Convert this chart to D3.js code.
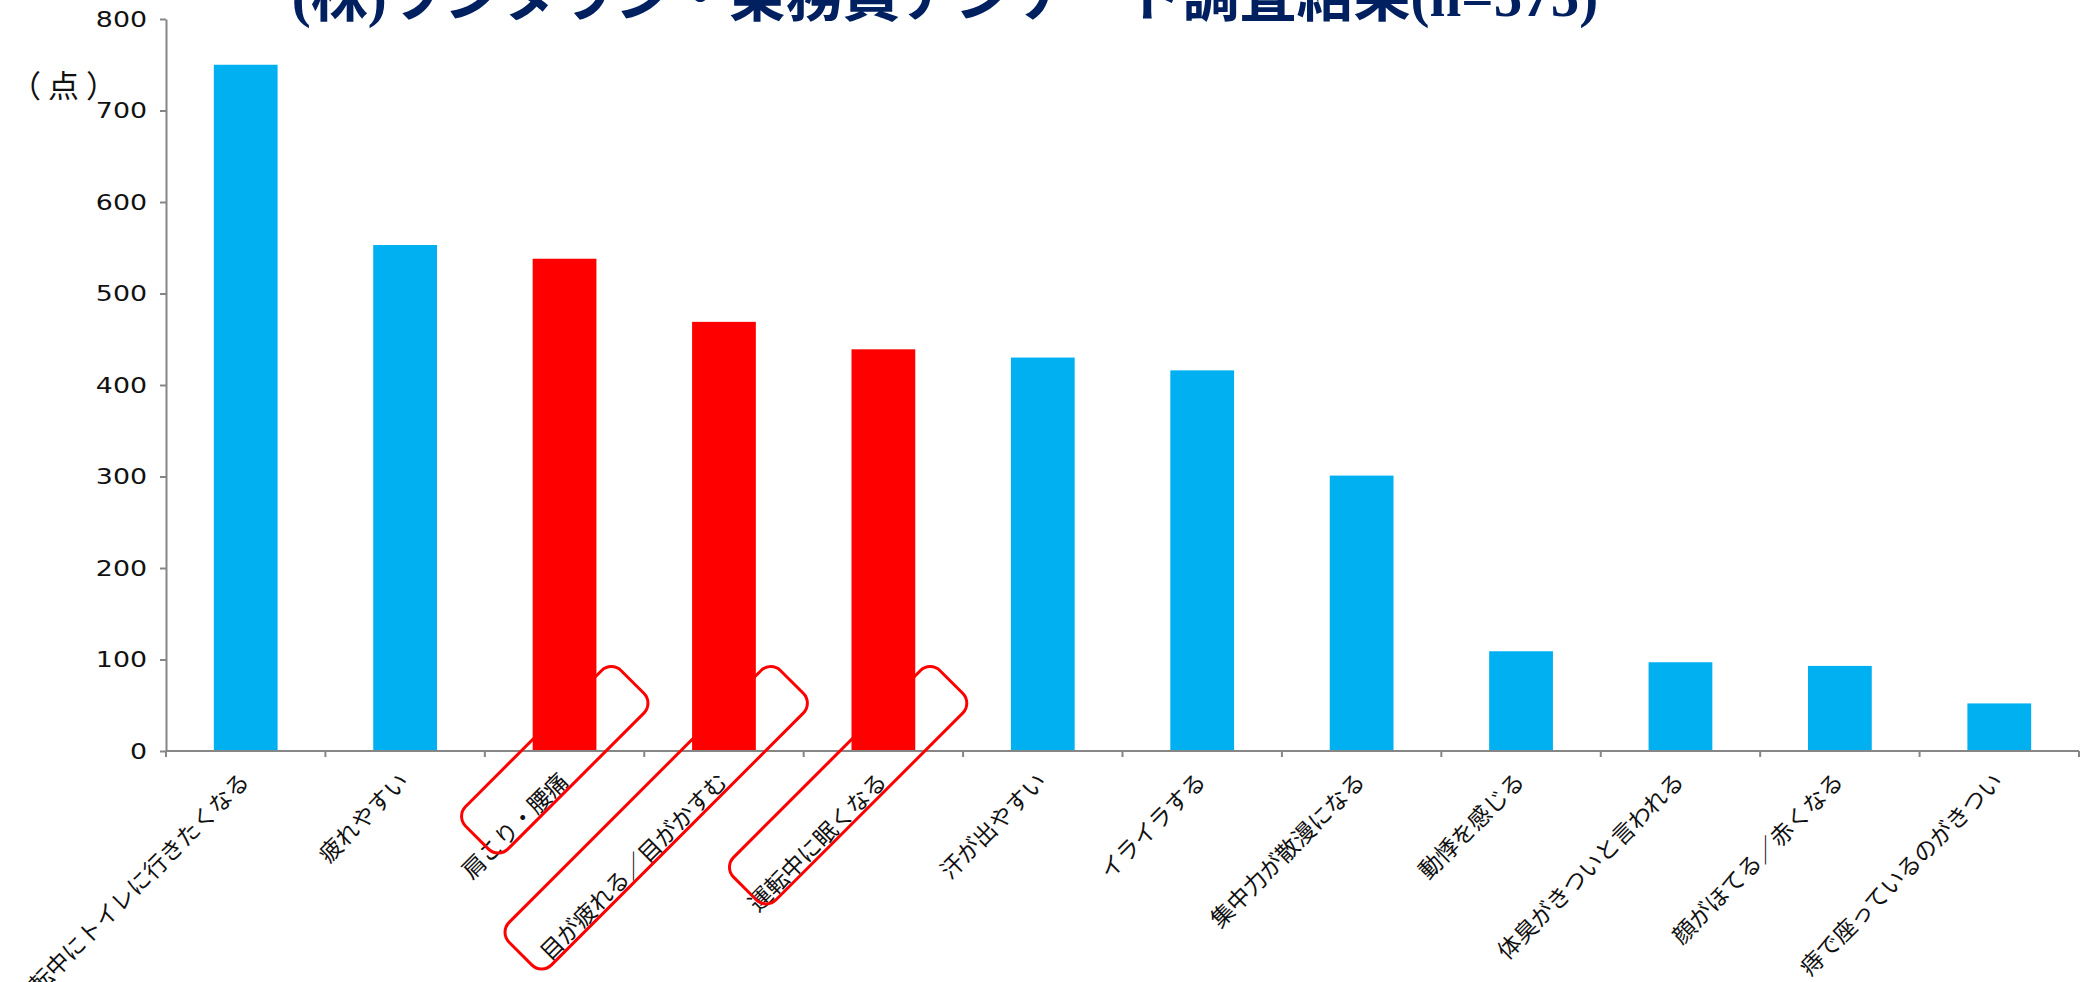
<!DOCTYPE html>
<html>
<head>
<meta charset="utf-8">
<script src="https://cdn.jsdelivr.net/npm/d3@7"></script>
<style>
  html, body { margin: 0; padding: 0; background: #ffffff; }
  svg { display: block; }
</style>
</head>
<body>
<svg id="chart" width="2084" height="982"></svg>
<script>
// ---- data ----
const categories = [
  "運転中にトイレに行きたくなる",
  "疲れやすい",
  "肩こり・腰痛",
  "目が疲れる／目がかすむ",
  "運転中に眠くなる",
  "汗が出やすい",
  "イライラする",
  "集中力が散漫になる",
  "動悸を感じる",
  "体臭がきついと言われる",
  "顔がほてる／赤くなる",
  "痔で座っているのがきつい"
];
const values = [750, 553, 538, 469, 439, 430, 416, 301, 109, 97, 93, 52];
const highlighted = ["肩こり・腰痛", "目が疲れる／目がかすむ", "運転中に眠くなる"];
const yTicks = [0, 100, 200, 300, 400, 500, 600, 700, 800];
const titleText = "(株)ワンタウン・乗務員アンケート調査結果(n=575)";
const yUnit = "（点）";

// ---- layout / style ----
const svg = d3.select("#chart");
const plotLeft = 166, plotRight = 2079, plotTop = 19, plotBottom = 751;
const axisColor = "#868686";
const blue = "#00B0F0", red = "#FF0000";
const jpFont = "'Noto Sans CJK JP', 'Noto Sans', sans-serif";

const x = d3.scaleBand().domain(categories).range([plotLeft, plotRight])
  .paddingInner(0.6).paddingOuter(0.3);
const y = d3.scaleLinear().domain([0, 800]).range([plotBottom, plotTop]);
const step = x.step();

// title (cut off at the top)
svg.append("text")
  .attr("x", 945).attr("y", 16)
  .attr("text-anchor", "middle")
  .attr("font-family", "'Liberation Serif', 'Noto Sans CJK JP', serif")
  .attr("font-weight", "bold")
  .attr("font-size", 57)
  .attr("fill", "#002060")
  .text(titleText);

// bars
svg.append("g").selectAll("rect")
  .data(categories)
  .join("rect")
  .attr("x", d => x(d))
  .attr("width", x.bandwidth())
  .attr("y", (d, i) => y(values[i]))
  .attr("height", (d, i) => y(0) - y(values[i]))
  .attr("fill", d => highlighted.includes(d) ? red : blue);

// y axis
const yAxis = svg.append("g")
  .attr("transform", `translate(${plotLeft},0)`)
  .call(d3.axisLeft(y).tickValues(yTicks).tickSize(6).tickSizeOuter(0).tickPadding(14));
yAxis.select(".domain").attr("stroke", axisColor).attr("stroke-width", 2);
yAxis.selectAll(".tick line").attr("stroke", axisColor).attr("stroke-width", 2);
const sx = 1.22;
yAxis.selectAll(".tick text")
  .attr("font-family", "'DejaVu Sans', sans-serif")
  .attr("font-size", 22)
  .attr("fill", "#111")
  .attr("x", -19 / sx)
  .attr("transform", `scale(${sx},1)`);

// x axis line + boundary ticks
const xAxis = svg.append("g");
xAxis.append("line")
  .attr("x1", plotLeft).attr("x2", plotRight)
  .attr("y1", plotBottom).attr("y2", plotBottom)
  .attr("stroke", axisColor).attr("stroke-width", 2);
const boundaries = categories.map(c => x(c) - (step - x.bandwidth()) / 2).concat([plotRight]);
xAxis.selectAll(".bt").data(boundaries).join("line")
  .attr("class", "bt")
  .attr("x1", d => d).attr("x2", d => d)
  .attr("y1", plotBottom).attr("y2", plotBottom + 6)
  .attr("stroke", axisColor).attr("stroke-width", 2);

// x labels rotated
svg.append("g").selectAll("text")
  .data(categories)
  .join("text")
  .attr("transform", d => `translate(${x(d) + x.bandwidth() / 2 + 5},${plotBottom + 32}) rotate(-45)`)
  .attr("text-anchor", "end")
  .attr("font-family", jpFont)
  .attr("font-size", 23)
  .attr("fill", "#111")
  .text(d => d);

// unit label
svg.append("text")
  .attr("x", 10).attr("y", 97)
  .attr("text-anchor", "start")
  .attr("font-family", jpFont)
  .attr("font-size", 31)
  .attr("letter-spacing", 7)
  .attr("fill", "#111")
  .text(yUnit);

// red rounded highlight boxes around the emphasized labels
const boxLen = { "肩こり・腰痛": 220, "目が疲れる／目がかすむ": 384, "運転中に眠くなる": 292 };
const boxH = 60;
svg.append("g").selectAll("rect")
  .data(highlighted)
  .join("rect")
  .attr("transform", d => `translate(${x(d) + x.bandwidth() / 2 + 68},${plotBottom - 69}) rotate(-45)`)
  .attr("x", d => -boxLen[d])
  .attr("y", -boxH / 2)
  .attr("width", d => boxLen[d])
  .attr("height", boxH)
  .attr("rx", 14).attr("ry", 14)
  .attr("fill", "none")
  .attr("stroke", red)
  .attr("stroke-width", 3);
</script>
</body>
</html>
